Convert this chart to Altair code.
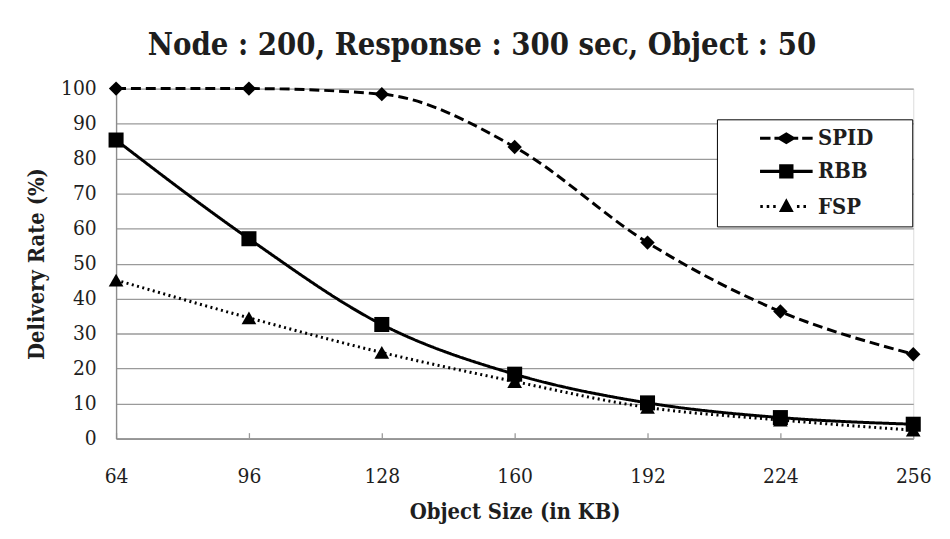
import altair as alt
import pandas as pd

# ---------------- data ----------------
sizes = [64, 96, 128, 160, 192, 224, 256]
spid = [100, 100, 98.4, 83.3, 56.0, 36.3, 24.1]
rbb = [85.3, 57.1, 32.6, 18.4, 10.2, 6.0, 4.1]
fsp = [45.3, 34.5, 24.6, 16.3, 8.9, 5.3, 2.4]
series_names = ["SPID", "RBB", "FSP"]
y_ticks = list(range(0, 101, 10))
title_text = "Node : 200, Response : 300 sec, Object : 50"
x_title = "Object Size (in KB)"
y_title = "Delivery Rate (%)"

FONT = "DejaVu Serif Condensed"
TXT = "#1e1e1e"
GRID = "#9a9a9a"

def frame(vals, name):
    return pd.DataFrame({"size": sizes, "rate": vals, "series": name})

df_spid = frame(spid, "SPID")
df_rbb = frame(rbb, "RBB")
df_fsp = frame(fsp, "FSP")
df_all = pd.concat([df_spid, df_rbb, df_fsp], ignore_index=True)

xscale = alt.Scale(domain=[sizes[0], sizes[-1]], nice=False, zero=False)
yscale = alt.Scale(domain=[0, 100], nice=False)

main_x_axis = alt.Axis(
    orient="bottom", values=sizes, title=x_title, grid=False, ticks=False, tickSize=0,
    labelPadding=27, labelFontSize=21, labelFont=FONT, labelColor=TXT, labelFlush=False,
    titleFont=FONT, titleFontSize=22, titleFontWeight="bold", titleColor=TXT,
    titlePadding=16, domainColor="#8c8c8c", domainWidth=1.6,
)
tick_x_axis = alt.Axis(
    orient="bottom", values=sizes, title=None, grid=False, labels=False, domain=False,
    ticks=True, tickSize=6, offset=-6, tickColor="#9a9a9a", tickWidth=1.3,
)
y_axis = alt.Axis(
    values=y_ticks, title=y_title, grid=True, gridColor=GRID, gridWidth=1.3,
    ticks=False, tickSize=0, labelPadding=20, labelFontSize=21, labelFont=FONT,
    labelColor=TXT, titleFont=FONT, titleFontSize=22, titleFontWeight="bold",
    titleColor=TXT, titlePadding=12, domainColor="#8c8c8c", domainWidth=1.4,
)


def line_layer(df, dash, x_axis=None):
    return alt.Chart(df).mark_line(
        color="black", strokeWidth=3, strokeDash=dash, interpolate="monotone"
    ).encode(
        x=alt.X("size:Q", scale=xscale, axis=x_axis),
        y=alt.Y("rate:Q", scale=yscale, axis=y_axis),
    )


def point_layer(df, shape, size):
    return alt.Chart(df).mark_point(
        shape=shape, filled=True, color="black", size=size, opacity=1
    ).encode(
        x=alt.X("size:Q", scale=xscale, axis=None),
        y=alt.Y("rate:Q", scale=yscale, axis=y_axis),
    )


# custom legend symbols (filled outlines only): line pieces + marker, unit = 8.5 px
def seg(a, b, h=0.18):
    return f"M{a},{-h}H{b}V{h}H{a}Z"

sym_spid = (seg(-3.12, -1.88) + seg(-1.41, 1.41) + seg(1.88, 3.12)
            + "M0,-0.71L1.18,0L0,0.71L-1.18,0Z")
sym_rbb = seg(-3.12, 3.12) + "M-0.85,-0.85H0.85V0.85H-0.85Z"
sym_fsp = (seg(-3.09, -2.79) + seg(-2.33, -2.03) + seg(-1.56, -1.26)
           + seg(1.26, 1.56) + seg(2.03, 2.33)
           + "M0,-1.0L0.88,0.65L-0.88,0.65Z")

PAD = "\u2800" * 2

legend_layer = alt.Chart(df_all).transform_filter("false").mark_point(
    filled=True, color="black"
).encode(
    x=alt.X("size:Q", scale=xscale, axis=None),
    y=alt.Y("rate:Q", scale=yscale, axis=y_axis),
    shape=alt.Shape(
        "series:N",
        scale=alt.Scale(domain=series_names, range=[sym_spid, sym_rbb, sym_fsp]),
        legend=alt.Legend(
            title=None, orient="none", legendX=606, legendY=31,
            strokeColor="black", fillColor="white", padding=8,
            rowPadding=6.5, symbolSize=289, symbolStrokeWidth=3,
            symbolFillColor="black", symbolOpacity=1,
            symbolOffset=51, labelOffset=21,
            labelFont=FONT, labelFontSize=22, labelFontWeight="bold",
            labelColor=TXT, labelExpr="datum.label + '" + PAD + "'",
        ),
    ),
)

chart = alt.layer(
    line_layer(df_spid, [10, 5], x_axis=main_x_axis),
    line_layer(df_rbb, [1, 0]),
    line_layer(df_fsp, [2, 3.5], x_axis=tick_x_axis),
    point_layer(df_fsp, "triangle-up", 220),
    point_layer(df_rbb, "square", 230),
    point_layer(df_spid, "diamond", 210),
    legend_layer,
).resolve_axis(x="independent").properties(
    width=804,
    height=353,
    title=alt.TitleParams(
        text=title_text, font=FONT, fontSize=31, fontWeight="bold", color=TXT,
        anchor="middle", frame="group", dx=-33, offset=16,
    ),
    autosize=alt.AutoSizeParams(type="none"),
    padding={"left": 109, "top": 79, "right": 29, "bottom": 99},
).configure_view(stroke=None).configure(background="white")

chart.save("out.html", embed_options={"renderer": "svg", "actions": False})
